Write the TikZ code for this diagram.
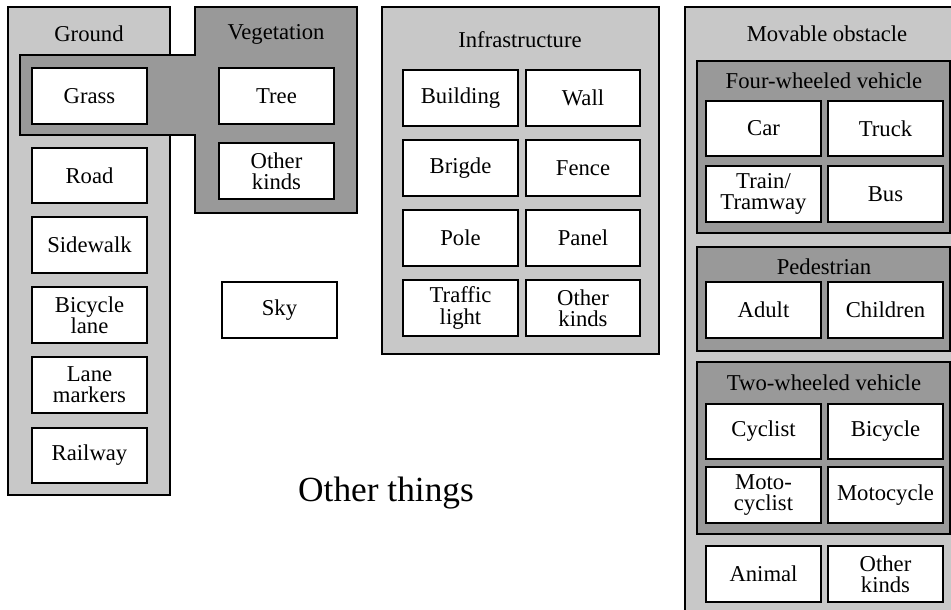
\documentclass[tikz,border=0pt]{standalone}
\usepackage{fontspec}
\setmainfont{Liberation Serif}
\definecolor{lightg}{RGB}{200,200,200}
\definecolor{darkg}{RGB}{153,153,153}
\tikzset{
  item/.style={draw=black, fill=white, line width=1.4pt, minimum width=86pt, minimum height=41.5pt,
    inner sep=0pt, align=center, font=\fontsize{17}{16}\selectfont},
  grp/.style={draw=black, line width=1.4pt, fill=lightg},
  subgrp/.style={draw=black, line width=1.4pt, fill=darkg},
  gtitle/.style={inner sep=0pt, font=\fontsize{17}{16}\selectfont}
}
\begin{document}
\begin{tikzpicture}[x=0.75pt, y=-0.75pt]
\useasboundingbox (0,0) rectangle (951,610);
\clip (0,0) rectangle (951,610);
% Ground
\draw[grp] (8,7) rectangle (170,495);
\node[gtitle] (tground) at (89,34) {Ground};
% Vegetation (with extension over Grass)
\draw[subgrp] (195,7) -- (357,7) -- (357,213) -- (195,213) -- (195,135) -- (20,135) -- (20,55) -- (195,55) -- cycle;
\node[gtitle] (tveg) at (276,34) {Vegetation};
\node[item] (grass) at (89.5,96) {Grass};
\node[item] (tree) at (276.5,96) {Tree};
\node[item] (vother) at (276.5,171) {Other\\kinds};
\node[item] (road) at (89.5,175.5) {Road};
\node[item] (sidewalk) at (89.5,245) {Sidewalk};
\node[item] (bikelane) at (89.5,315) {Bicycle\\lane};
\node[item] (lanemark) at (89.5,385) {Lane\\markers};
\node[item] (railway) at (89.5,455.5) {Railway};
% Sky
\node[item] (sky) at (279.5,310) {Sky};
% Infrastructure
\draw[grp] (382,7) rectangle (659,354);
\node[gtitle] (tinfra) at (520,40) {Infrastructure};
\node[item] (building) at (460.5,98) {Building};
\node[item] (wall) at (583,98) {Wall};
\node[item] (bridge) at (460.5,168) {Brigde};
\node[item] (fence) at (583,168) {Fence};
\node[item] (pole) at (460.5,238) {Pole};
\node[item] (panel) at (583,238) {Panel};
\node[item] (traffic) at (460.5,308) {Traffic\\light};
\node[item] (iother) at (583,308) {Other\\kinds};
% Movable obstacle
\draw[grp] (685,7) rectangle (969,630);
\node[gtitle] (tmov) at (827,34) {Movable obstacle};
\draw[subgrp] (697,61) rectangle (950,233);
\node[gtitle] (tfour) at (824,81) {Four-wheeled vehicle};
\node[item] (car) at (763.5,128.5) {Car};
\node[item] (truck) at (885.5,128.5) {Truck};
\node[item] (train) at (763.5,194) {Train/\\Tramway};
\node[item] (bus) at (885.5,194) {Bus};
\draw[subgrp] (697,247) rectangle (950,351);
\node[gtitle] (tped) at (824,267) {Pedestrian};
\node[item] (adult) at (763.5,310) {Adult};
\node[item] (children) at (885.5,310) {Children};
\draw[subgrp] (697,362) rectangle (950,534);
\node[gtitle] (ttwo) at (824,383) {Two-wheeled vehicle};
\node[item] (cyclist) at (763.5,431.5) {Cyclist};
\node[item] (bicycle) at (885.5,431.5) {Bicycle};
\node[item] (motocyclist) at (763.5,495) {Moto-\\cyclist};
\node[item] (motocycle) at (885.5,495) {Motocycle};
\node[item] (animal) at (763.5,574) {Animal};
\node[item] (mother) at (885.5,574) {Other\\kinds};
% Other things
\node[inner sep=0pt, font=\fontsize{26.5}{28}\selectfont] (other) at (386,493) {Other things};
\end{tikzpicture}
\end{document}
